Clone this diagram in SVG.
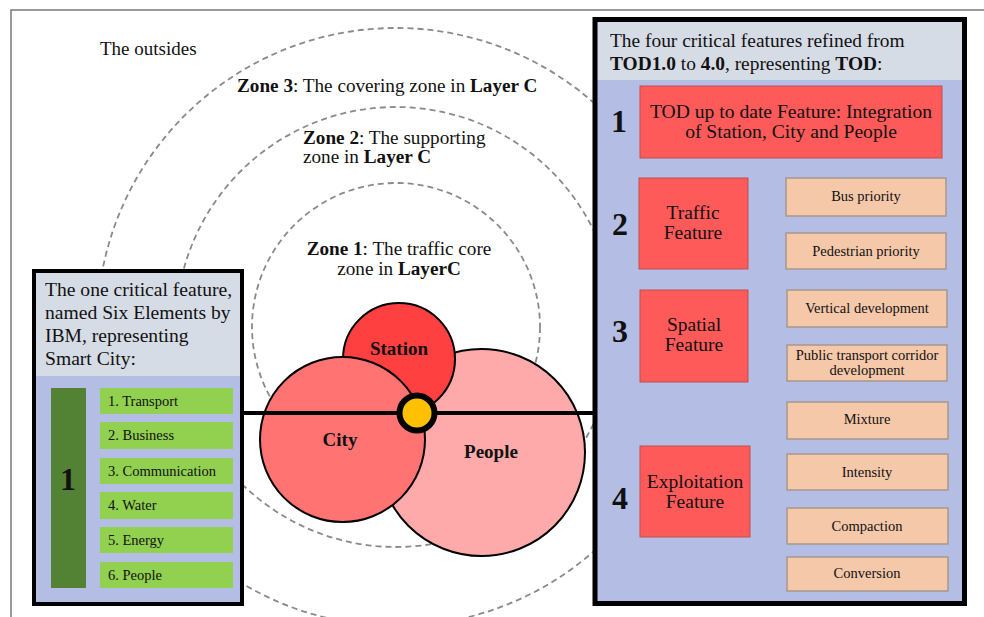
<svg xmlns="http://www.w3.org/2000/svg" width="984" height="617" viewBox="0 0 984 617">
  <style>
    text { font-family: "Liberation Serif", "Times New Roman", serif; fill: #111; }
    .b { font-weight: bold; }
    .zone { fill: none; stroke: #8a8a8a; stroke-width: 1.8; stroke-dasharray: 6 4; }
    .frame { fill: none; stroke: #7a7a7a; stroke-width: 1.5; }
    .hdr { fill: #d6dce5; }
    .body { fill: #b4bee4; }
    .border { fill: none; stroke: #000; }
    .elem { fill: #92d050; }
    .red { fill: #ff5a5a; stroke: #c0504d; stroke-width: 1; }
    .peach { fill: #f5c8a9; stroke: #a8968c; stroke-width: 1.5; }
    .conn { fill: none; stroke: #1a1a1a; stroke-width: 2; }
    .lbl { font-size: 19.5px; }
    .small { font-size: 14.5px; }
    .num { font-size: 32px; font-weight: bold; }
    .circ { font-size: 19px; font-weight: bold; }
  </style>

  <rect x="0" y="0" width="984" height="617" fill="#fff"/>
  <!-- page frame -->
  <path class="frame" d="M11,617 V10 H984"/>

  <!-- zone rings -->
  <g id="zones">
    <circle class="zone" cx="396" cy="327" r="299"/>
    <circle class="zone" cx="396" cy="327" r="220"/>
    <circle class="zone" cx="396" cy="327" r="144"/>
  </g>

  <g id="zone-labels" font-size="19.2">
    <text x="100" y="55" font-size="19">The outsides</text>
    <text x="237" y="92"><tspan class="b">Zone 3</tspan>: The covering zone in <tspan class="b">Layer C</tspan></text>
    <text x="303" y="144"><tspan class="b">Zone 2</tspan>: The supporting</text>
    <text x="303" y="163">zone in <tspan class="b">Layer C</tspan></text>
    <text x="399" y="255" text-anchor="middle"><tspan class="b">Zone 1</tspan>: The traffic core</text>
    <text x="399" y="275" text-anchor="middle">zone in <tspan class="b">LayerC</tspan></text>
  </g>

  <!-- station / city / people -->
  <g id="people">
    <circle cx="481.5" cy="452.5" r="103.5" fill="#ffaaaa" stroke="#000" stroke-width="2"/>
    <text class="circ" x="491" y="458" text-anchor="middle">People</text>
  </g>
  <g id="station">
    <circle cx="399" cy="359" r="56" fill="#ff4040" stroke="#000" stroke-width="2"/>
    <text class="circ" x="399" y="355" text-anchor="middle">Station</text>
  </g>
  <g id="city">
    <circle cx="342.5" cy="439.5" r="82.5" fill="#ff7373" stroke="#000" stroke-width="2"/>
  </g>

  <g id="connectors">
    <line x1="243" y1="413" x2="595" y2="413" stroke="#000" stroke-width="4"/>
    <path class="conn" d="M748,223 H763 M763,197 V251 M763,197 H786 M763,251 H786"/>
    <path class="conn" d="M748,335 H763 M763,309 V363 M763,309 H787 M763,363 H787"/>
    <path class="conn" d="M750,492 H764 M764,421 V574 M764,421 H787 M764,473 H787 M764,526 H787 M764,574 H787"/>
  </g>

  <g id="city-label">
    <text class="circ" x="340" y="446" text-anchor="middle">City</text>
  </g>
  <g id="hub">
    <circle cx="417" cy="413" r="17.5" fill="#ffc000" stroke="#000" stroke-width="6"/>
  </g>

  <!-- smart city panel -->
  <g id="smart-city">
    <rect class="hdr" x="34" y="271" width="208" height="105"/>
    <rect class="body" x="34" y="376" width="208" height="228"/>
    <rect class="border" x="34" y="271" width="208" height="333" stroke-width="4"/>
    <g font-size="19.6">
      <text x="45" y="296">The one critical feature,</text>
      <text x="45" y="319">named Six Elements by</text>
      <text x="45" y="342">IBM, representing</text>
      <text x="45" y="365">Smart City:</text>
    </g>
    <rect x="51" y="388" width="35" height="200" fill="#548235"/>
    <text class="num" x="68" y="490" text-anchor="middle">1</text>
    <g id="elements">
      <rect class="elem" x="100" y="388" width="133" height="26"/>
      <rect class="elem" x="100" y="422" width="133" height="27"/>
      <rect class="elem" x="100" y="458" width="133" height="26"/>
      <rect class="elem" x="100" y="492" width="133" height="27"/>
      <rect class="elem" x="100" y="527" width="133" height="26"/>
      <rect class="elem" x="100" y="562" width="133" height="26"/>
      <g class="small">
        <text x="108" y="406">1. Transport</text>
        <text x="108" y="440">2. Business</text>
        <text x="108" y="476">3. Communication</text>
        <text x="108" y="510">4. Water</text>
        <text x="108" y="545">5. Energy</text>
        <text x="108" y="580">6. People</text>
      </g>
    </g>
  </g>

  <!-- TOD panel -->
  <g id="tod">
    <rect class="hdr" x="597" y="21" width="366" height="59"/>
    <rect class="body" x="597" y="80" width="366" height="522"/>
    <rect class="border" x="595" y="19.5" width="369.5" height="584" stroke-width="5"/>
    <g font-size="19.4">
      <text x="610" y="47">The four critical features refined from</text>
      <text x="610" y="70"><tspan class="b">TOD1.0</tspan> to <tspan class="b">4.0</tspan>, representing <tspan class="b">TOD</tspan>:</text>
    </g>
  </g>

  <g id="feature-1">
    <text class="num" x="619" y="132" text-anchor="middle">1</text>
    <rect class="red" x="640" y="86" width="302" height="72"/>
    <text x="791" y="118" font-size="19.6" text-anchor="middle">TOD up to date Feature: Integration</text>
    <text x="791" y="138" font-size="19.6" text-anchor="middle">of Station, City and People</text>
  </g>

  <g id="feature-2">
    <text class="num" x="620" y="235" text-anchor="middle">2</text>
    <rect class="red" x="639" y="178" width="109" height="91"/>
    <text class="lbl" x="693" y="219" text-anchor="middle">Traffic</text>
    <text class="lbl" x="693" y="239" text-anchor="middle">Feature</text>
  </g>
  <g id="bus-priority">
    <rect class="peach" x="786" y="178" width="160" height="38"/>
    <text class="small" x="866" y="201" text-anchor="middle">Bus priority</text>
  </g>
  <g id="pedestrian-priority">
    <rect class="peach" x="786" y="233" width="160" height="36"/>
    <text class="small" x="866" y="256" text-anchor="middle">Pedestrian priority</text>
  </g>

  <g id="feature-3">
    <text class="num" x="620" y="342" text-anchor="middle">3</text>
    <rect class="red" x="640" y="290" width="108" height="92"/>
    <text class="lbl" x="694" y="331" text-anchor="middle">Spatial</text>
    <text class="lbl" x="694" y="351" text-anchor="middle">Feature</text>
  </g>
  <g id="vertical-development">
    <rect class="peach" x="787" y="290" width="160" height="37"/>
    <text class="small" x="867" y="313" text-anchor="middle">Vertical development</text>
  </g>
  <g id="corridor-development">
    <rect class="peach" x="787" y="345" width="160" height="36"/>
    <text class="small" x="867" y="360" text-anchor="middle">Public transport corridor</text>
    <text class="small" x="867" y="375" text-anchor="middle">development</text>
  </g>

  <g id="feature-4">
    <text class="num" x="620" y="509" text-anchor="middle">4</text>
    <rect class="red" x="640" y="446" width="110" height="91"/>
    <text class="lbl" x="695" y="488" text-anchor="middle">Exploitation</text>
    <text class="lbl" x="695" y="508" text-anchor="middle">Feature</text>
  </g>
  <g id="mixture">
    <rect class="peach" x="787" y="402" width="161" height="37"/>
    <text class="small" x="867" y="424" text-anchor="middle">Mixture</text>
  </g>
  <g id="intensity">
    <rect class="peach" x="787" y="454" width="161" height="36"/>
    <text class="small" x="867" y="477" text-anchor="middle">Intensity</text>
  </g>
  <g id="compaction">
    <rect class="peach" x="787" y="508" width="161" height="36"/>
    <text class="small" x="867" y="531" text-anchor="middle">Compaction</text>
  </g>
  <g id="conversion">
    <rect class="peach" x="787" y="557" width="161" height="34"/>
    <text class="small" x="867" y="578" text-anchor="middle">Conversion</text>
  </g>
</svg>
